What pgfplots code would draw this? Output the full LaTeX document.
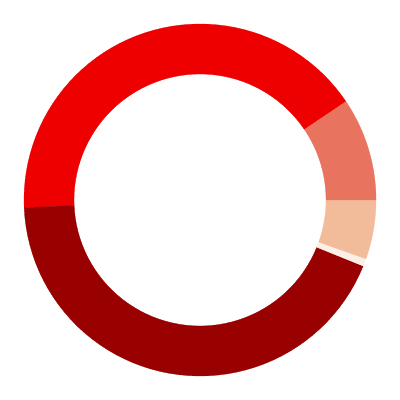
\documentclass[border=0pt]{standalone}
\usepackage{pgfplots}
\usepackage{pgfplotstable}
\pgfplotsset{compat=1.18}
\definecolor{sliceA}{HTML}{EE0000}
\definecolor{sliceB}{HTML}{990000}
\definecolor{sliceC}{HTML}{FDEEE6}
\definecolor{sliceD}{HTML}{F2BC9A}
\definecolor{sliceE}{HTML}{E8735F}

% slice shares in percent, counter-clockwise from 34 deg
\pgfplotstableread{
value
41.25
43.19
0.70
5.42
9.44
}\donutdata

\newcommand{\rout}{176}
\newcommand{\rin}{126}

\pgfplotstablegetelem{0}{value}\of\donutdata \let\vA\pgfplotsretval
\pgfplotstablegetelem{1}{value}\of\donutdata \let\vB\pgfplotsretval
\pgfplotstablegetelem{2}{value}\of\donutdata \let\vC\pgfplotsretval
\pgfplotstablegetelem{3}{value}\of\donutdata \let\vD\pgfplotsretval
\pgfplotstablegetelem{4}{value}\of\donutdata \let\vE\pgfplotsretval
\pgfmathsetmacro\aA{34}
\pgfmathsetmacro\aB{\aA+3.6*\vA}
\pgfmathsetmacro\aC{\aB+3.6*\vB}
\pgfmathsetmacro\aD{\aC+3.6*\vC}
\pgfmathsetmacro\aE{\aD+3.6*\vD}
\pgfmathsetmacro\aF{\aE+3.6*\vE}

% wedge: outer arc for t in 0..50, inner arc back for t in 100..150
\newcommand{\donutwedge}[3]{%
  \addplot[fill=#1, draw=#1, line width=0.2pt, variable=\t,
    samples at={0,1,...,50,100,101,...,150}]
  ({ifthenelse(\t<75,\rout,\rin)*cos(ifthenelse(\t<75,#2+(#3-#2)*\t/50,#3-(#3-#2)*(\t-100)/50))},
   {ifthenelse(\t<75,\rout,\rin)*sin(ifthenelse(\t<75,#2+(#3-#2)*\t/50,#3-(#3-#2)*(\t-100)/50))}) -- cycle;
}

\begin{document}
\begin{tikzpicture}
\begin{axis}[
  hide axis,
  scale only axis,
  width=10cm, height=10cm,
  xmin=-200, xmax=200,
  ymin=-200, ymax=200,
  clip=false,
  ]
  \path (rel axis cs:0,0) rectangle (rel axis cs:1,1);
  \donutwedge{sliceA}{\aA}{\aB}
  \donutwedge{sliceB}{\aB}{\aC}
  \donutwedge{sliceC}{\aC}{\aD}
  \donutwedge{sliceD}{\aD}{\aE}
  \donutwedge{sliceE}{\aE}{\aF}
\end{axis}
\end{tikzpicture}
\end{document}
